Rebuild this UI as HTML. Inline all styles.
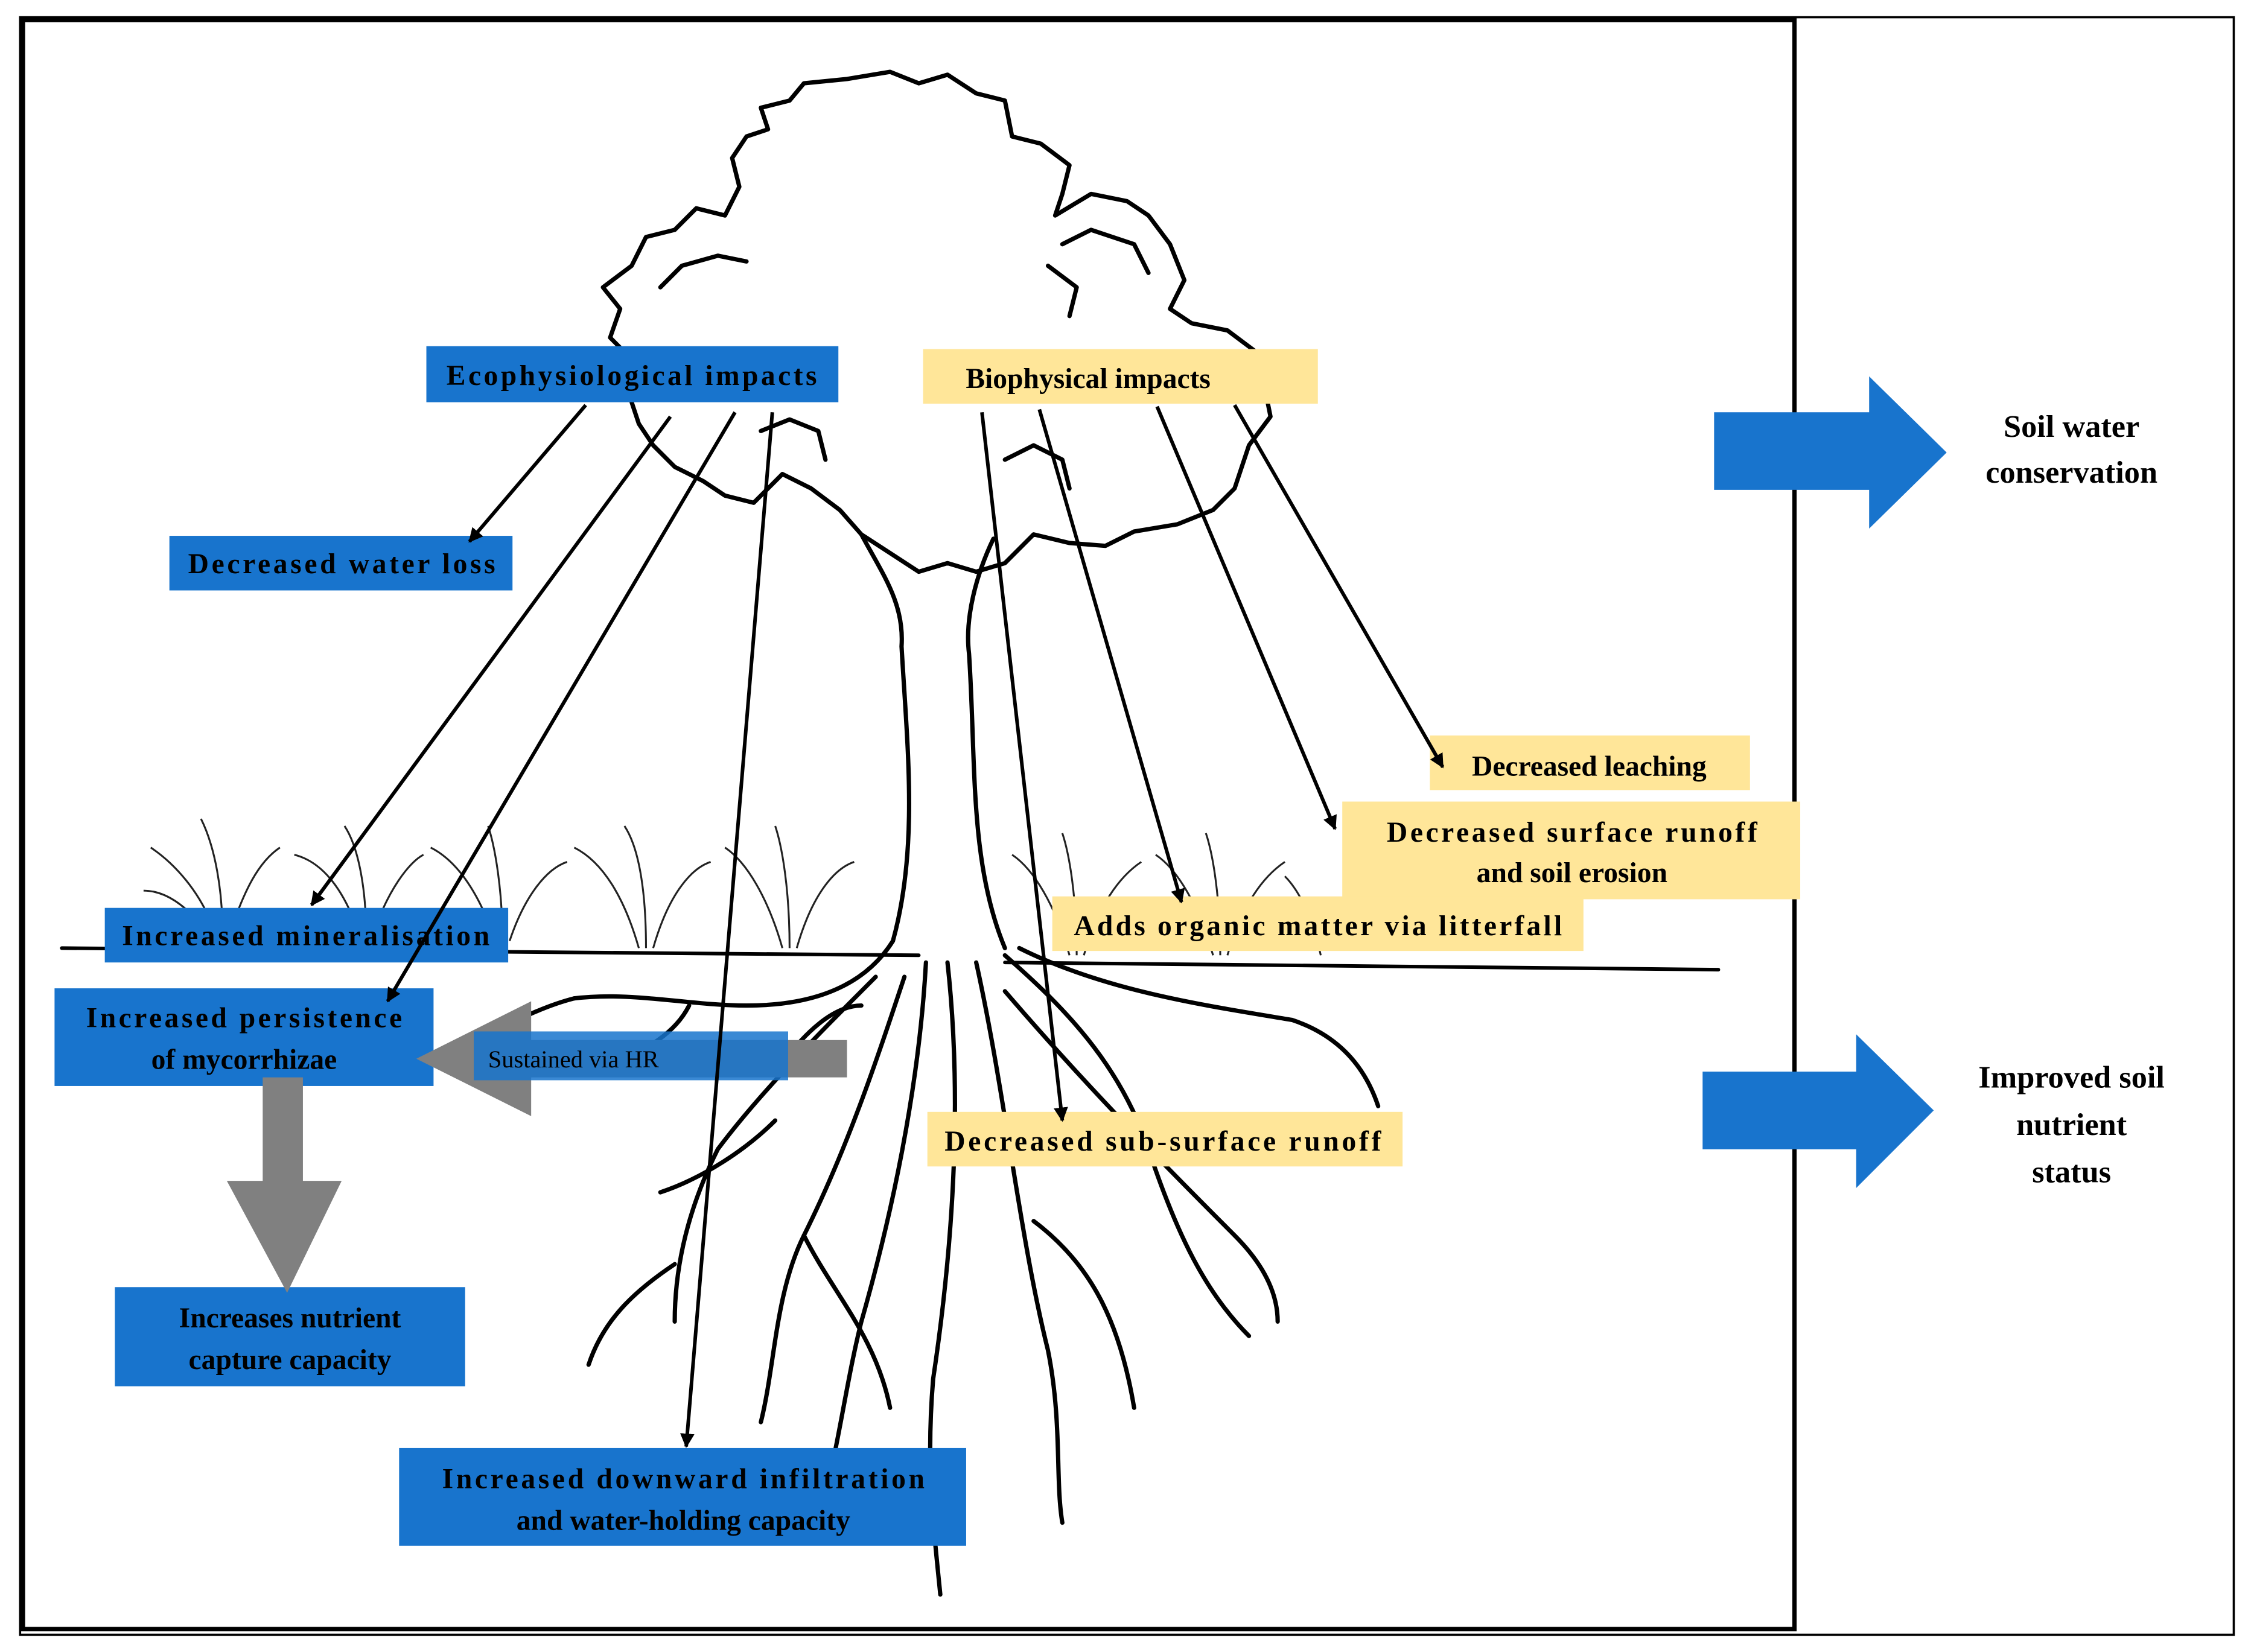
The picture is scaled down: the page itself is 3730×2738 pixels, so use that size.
<!DOCTYPE html>
<html><head><meta charset="utf-8"><style>
html,body{margin:0;padding:0;background:#fff}
svg{display:block}
</style></head><body>
<svg width="3730" height="2738" viewBox="0 0 1568 1150" preserveAspectRatio="none" xmlns="http://www.w3.org/2000/svg">
<defs>
<marker id="ah" markerWidth="10" markerHeight="10" refX="9" refY="5" orient="auto" markerUnits="userSpaceOnUse"><path d="M0,0 L10,5 L0,10 z" fill="#000"/></marker>
</defs>
<rect x="0" y="0" width="1568" height="1150" fill="#fff"/>
<rect x="14" y="12" width="1542" height="1126" fill="none" stroke="#000" stroke-width="1.5"/>
<rect x="16" y="14" width="1234" height="1120" fill="none" stroke="#000" stroke-width="3"/>

<!-- tree -->
<g fill="none" stroke="#000" stroke-width="3" stroke-linejoin="round" stroke-linecap="round">
<path d="M440,250 L425,235 L432,215 L420,200 L440,185 L450,165 L470,160 L485,145 L505,150 L515,130 L510,110 L520,95 L535,90 L530,75 L550,70 L560,58 L590,55 L620,50 L640,58 L660,52 L680,65 L700,70 L705,95 L725,100 L745,115 L740,135 L735,150 L760,135 L785,140 L800,150 L815,170 L825,195 L815,215 L830,225 L855,230 L875,245 L880,265 L885,290 L870,310 L860,340 L845,355 L820,365 L790,370 L770,380 L745,378 L720,372 L700,392 L680,398 L660,392 L640,398 L620,385 L600,372 L585,355 L565,340 L545,330 L525,350 L505,345 L490,335 L470,325 L455,310 L445,295 L440,280 Z"/>
<path d="M460,200 L475,185 L500,178 L520,182 M740,170 L760,160 L790,170 L800,190 M530,300 L550,292 L570,300 L575,320 M700,320 L720,310 L740,320 L745,340 M730,185 L750,200 L745,220"/>
<path d="M600,372 C615,400 630,420 628,450 C632,520 640,590 622,655"/>
<path d="M692,375 C680,400 672,430 675,455 C680,530 675,600 700,660"/>
<path d="M43,660 L640,665 M700,670 L1197,675" stroke-width="2.5"/>
<path d="M622,655 C600,690 560,700 520,700 C480,700 440,690 400,695"/>
<path d="M610,680 C570,720 530,760 500,800 C480,840 470,880 470,920"/>
<path d="M630,680 C610,740 590,800 560,860 C540,900 540,950 530,990"/>
<path d="M645,670 C640,760 620,850 600,920 C590,960 585,1000 575,1040"/>
<path d="M660,670 C670,760 665,860 650,960 C645,1020 650,1060 655,1110"/>
<path d="M680,670 C700,760 710,860 730,940 C740,990 735,1030 740,1060"/>
<path d="M700,665 C740,700 780,740 800,800 C820,860 840,900 870,930"/>
<path d="M710,660 C770,690 840,700 900,710 C930,720 950,740 960,770"/>
<path d="M700,690 C760,760 820,820 860,860 C880,880 890,900 890,920"/>
<path d="M540,780 C520,800 490,820 460,830 M560,860 C580,900 610,930 620,980 M470,880 C440,900 420,920 410,950 M720,850 C760,880 780,920 790,980 M600,700 C580,700 560,720 545,740"/>
<path d="M400,695 C380,700 360,710 340,720 M480,700 C470,720 450,730 430,740"/>
</g>
<g fill="none" stroke="#222" stroke-width="1.3">
<path d="M150,650 C140,620 120,600 105,590 M155,650 C155,620 150,590 140,570 M160,650 C170,620 180,600 195,590 M145,650 C130,630 115,620 100,620"/>
<path d="M250,650 C240,620 225,600 205,595 M255,650 C255,620 250,590 240,575 M260,650 C270,620 285,600 295,595"/>
<path d="M345,655 C335,625 320,600 300,590 M350,655 C350,620 345,590 340,575 M355,655 C365,625 380,605 395,600"/>
<path d="M445,660 C435,625 420,600 400,590 M450,660 C450,620 445,590 435,575 M455,660 C465,625 480,605 495,600"/>
<path d="M545,660 C535,625 520,600 505,590 M550,660 C550,620 545,590 540,575 M555,660 C565,625 580,605 595,600"/>
<path d="M745,665 C735,630 720,605 705,595 M750,665 C750,625 745,595 740,580 M755,665 C765,630 780,610 795,600"/>
<path d="M845,665 C835,630 820,605 805,595 M850,665 C850,625 845,595 840,580 M855,665 C865,630 880,610 895,600"/>
<path d="M920,665 C915,640 905,620 895,610"/>
</g>

<g fill="#1874CD">
<rect x="297" y="241" width="287" height="39"/>
<rect x="118" y="373" width="239" height="38"/>
<rect x="73" y="632" width="281" height="38"/>
<rect x="38" y="688" width="264" height="68"/>
<rect x="80" y="896" width="244" height="69"/>
<rect x="278" y="1008" width="395" height="68"/>
</g>
<g fill="#FFE699">
<rect x="643" y="243" width="275" height="38"/>
<rect x="996" y="512" width="223" height="38"/>
<rect x="935" y="558" width="319" height="68"/>
<rect x="733" y="624" width="370" height="38"/>
<rect x="646" y="774" width="331" height="38"/>
</g>

<path d="M590,724 L370,724 L370,697 L290,737 L370,777 L370,750 L590,750 Z" fill="#808080"/>
<rect x="330" y="718" width="219" height="34" fill="#1874CD" opacity="0.85"/>
<path d="M183,750 L211,750 L211,822 L238,822 L200,900 L158,822 L183,822 Z" fill="#808080"/>

<path d="M1194,287 L1302,287 L1302,262 L1356,315 L1302,368 L1302,341 L1194,341 Z" fill="#1874CD"/>
<path d="M1186,746 L1293,746 L1293,720 L1347,773 L1293,827 L1293,800 L1186,800 Z" fill="#1874CD"/>

<g stroke="#000" stroke-width="2.5" marker-end="url(#ah)">
<line x1="408" y1="282" x2="327" y2="377"/>
<line x1="467" y1="290" x2="217" y2="630"/>
<line x1="512" y1="287" x2="270" y2="697"/>
<line x1="538" y1="287" x2="478" y2="1007"/>
<line x1="684" y1="287" x2="740" y2="780"/>
<line x1="724" y1="285" x2="823" y2="628"/>
<line x1="806" y1="283" x2="930" y2="577"/>
<line x1="860" y1="282" x2="1005" y2="534"/>
</g>

<g font-family="Liberation Serif, DejaVu Serif, serif" font-weight="bold" font-size="20" text-anchor="middle" fill="#000">
<text x="440" y="268" textLength="258" lengthAdjust="spacing">Ecophysiological impacts</text>
<text x="238" y="399" textLength="214" lengthAdjust="spacing">Decreased water loss</text>
<text x="213" y="658" textLength="256" lengthAdjust="spacing">Increased mineralisation</text>
<text x="170" y="715" textLength="220" lengthAdjust="spacing">Increased persistence</text>
<text x="170" y="744">of mycorrhizae</text>
<text x="202" y="924">Increases nutrient</text>
<text x="202" y="953">capture capacity</text>
<text x="476" y="1036" textLength="336" lengthAdjust="spacing">Increased downward infiltration</text>
<text x="476" y="1065">and water-holding capacity</text>
<text x="758" y="270">Biophysical impacts</text>
<text x="1107" y="540">Decreased leaching</text>
<text x="1095" y="586" textLength="258" lengthAdjust="spacing">Decreased surface runoff</text>
<text x="1095" y="614">and soil erosion</text>
<text x="918" y="651" textLength="340" lengthAdjust="spacing">Adds organic matter via litterfall</text>
<text x="810" y="801" textLength="304" lengthAdjust="spacing">Decreased sub-surface runoff</text>
<text x="1443" y="304" font-size="22">Soil water</text>
<text x="1443" y="336" font-size="22">conservation</text>
<text x="1443" y="757" font-size="22">Improved soil</text>
<text x="1443" y="790" font-size="22">nutrient</text>
<text x="1443" y="823" font-size="22">status</text>
</g>
<text x="340" y="743" font-size="17" font-family="Liberation Serif, DejaVu Serif, serif" fill="#000">Sustained via HR</text>
</svg>
</body></html>
